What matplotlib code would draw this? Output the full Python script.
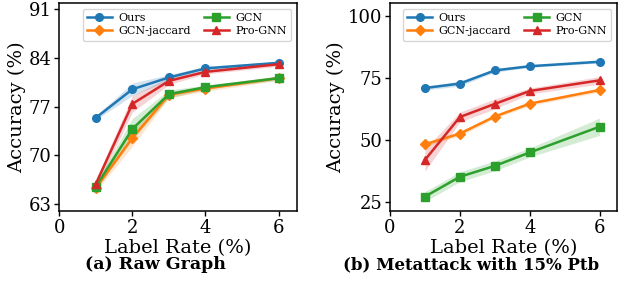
import matplotlib
matplotlib.use("Agg")
import matplotlib.pyplot as plt
import numpy as np

plt.rcParams['font.family'] = ['DejaVu Serif']

x = [1, 2, 3, 4, 6]
methods = ['Ours', 'GCN-jaccard', 'GCN', 'Pro-GNN']
colors = ['#1f77b4', '#ff7f0e', '#2ca02c', '#d62728']
markers = ['o', 'D', 's', '^']

# Panel (a) Raw Graph
raw_ours = [75.4, 79.5, 81.2, 82.5, 83.3]
raw_jac = [65.3, 72.5, 78.7, 79.6, 81.1]
raw_gcn = [65.5, 73.8, 78.8, 79.8, 81.1]
raw_pro = [65.9, 77.4, 80.7, 82.0, 83.1]
raw_ours_std = [0.3, 0.9, 0.4, 0.3, 0.2]
raw_jac_std = [0.5, 1.2, 0.4, 0.4, 0.3]
raw_gcn_std = [0.5, 1.5, 0.6, 0.3, 0.3]
raw_pro_std = [0.6, 1.2, 0.5, 0.3, 0.3]

# Panel (b) Metattack 15%
meta_ours = [71.0, 72.8, 78.1, 79.8, 81.6]
meta_jac = [48.3, 52.6, 59.5, 64.7, 70.2]
meta_gcn = [27.2, 35.2, 39.6, 45.0, 55.4]
meta_pro = [42.0, 59.3, 64.6, 69.8, 74.1]
meta_ours_std = [0.8, 1.0, 0.7, 0.5, 0.5]
meta_jac_std = [0.8, 1.0, 0.8, 0.8, 0.8]
meta_gcn_std = [2.0, 2.0, 2.0, 1.8, 3.5]
meta_pro_std = [4.5, 2.0, 2.0, 1.2, 1.5]

fig = plt.figure(figsize=(6.22, 2.83), dpi=100)
ax1 = fig.add_axes([0.0953, 0.2544, 0.382, 0.735])
ax2 = fig.add_axes([0.627, 0.2544, 0.365, 0.735])

def draw(ax, series, stds, ylim, yticks):
    for name, ys, sd, c, m in zip(methods, series, stds, colors, markers):
        ys = np.array(ys); sd = np.array(sd)
        ax.plot(x, ys, color=c, marker=m, markersize=5.5 if m != 'D' else 5,
                linewidth=1.8, label=name)
        ax.fill_between(x, ys - sd, ys + sd, color=c, alpha=0.2, linewidth=0)
    ax.set_xlim(0, 6.5)
    ax.set_ylim(*ylim)
    ax.set_xticks([0, 2, 4, 6])
    ax.set_yticks(yticks)
    for s in ax.spines.values():
        s.set_linewidth(1.1)
    ax.tick_params(labelsize=13, length=3.5, width=1.0, pad=2)
    ax.set_xlabel('Label Rate (%)', fontsize=14, labelpad=2)
    ax.set_ylabel('Accuracy (%)', fontsize=14, labelpad=2)
    ax.legend(loc='upper right', ncol=2, fontsize=8, handlelength=2.2,
              borderpad=0.4, labelspacing=0.3, columnspacing=1.2,
              handletextpad=0.6)

draw(ax1, [raw_ours, raw_jac, raw_gcn, raw_pro],
     [raw_ours_std, raw_jac_std, raw_gcn_std, raw_pro_std],
     (62.0, 91.9), [63, 70, 77, 84, 91])
draw(ax2, [meta_ours, meta_jac, meta_gcn, meta_pro],
     [meta_ours_std, meta_jac_std, meta_gcn_std, meta_pro_std],
     (21.4, 105.3), [25, 50, 75, 100])

fig.text(155/622, 0.064, '(a) Raw Graph', ha='center', va='center',
         fontsize=12.5, fontweight='bold', family='DejaVu Serif')
fig.text(471/622, 0.064, '(b) Metattack with 15% Ptb', ha='center', va='center',
         fontsize=12, fontweight='bold', family='DejaVu Serif')

fig.savefig('out.png', dpi=100)
